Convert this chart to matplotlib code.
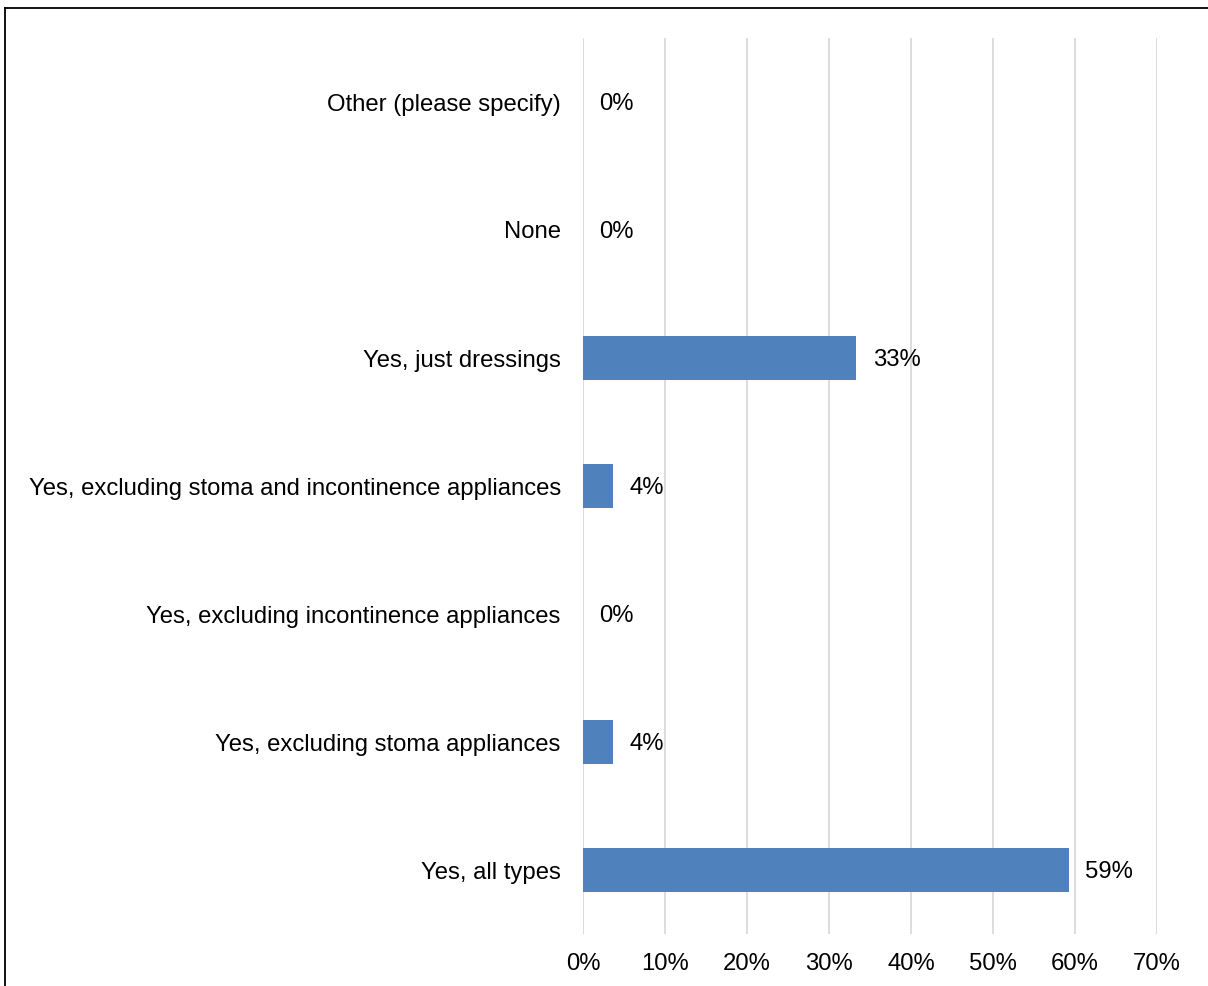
import matplotlib.pyplot as plt
from matplotlib.lines import Line2D

plt.rcParams['font.family'] = ['Liberation Sans', 'DejaVu Sans']

categories = ['Yes, all types', 'Yes, excluding stoma appliances',
              'Yes, excluding incontinence appliances',
              'Yes, excluding stoma and incontinence appliances',
              'Yes, just dressings', 'None', 'Other (please specify)']
values = [59.26, 3.70, 0.0, 3.70, 33.33, 0.0, 0.0]
xticks = [0, 10, 20, 30, 40, 50, 60, 70]

fs = 17.2
fig = plt.figure(figsize=(12.08, 9.86), dpi=100)
ax = fig.add_axes([583/1208, 52/986, (1157-583)/1208, (934-38)/986])

y = range(len(categories))
ax.barh(y, values, height=0.35, color='#4F81BD', zorder=3)
for i, v in enumerate(values):
    ax.text(v + 2.0, i, f'{v:.0f}%', va='center_baseline', ha='left', fontsize=fs)

ax.set_xlim(0, 70)
ax.set_ylim(-0.5, len(categories) - 0.5)
ax.set_xticks(xticks)
ax.set_xticklabels([f'{t}%' for t in xticks], fontsize=fs)
ax.set_yticks(list(y))
ax.set_yticklabels(categories, fontsize=fs)
ax.tick_params(axis='x', length=0, pad=14)
ax.tick_params(axis='y', length=0, pad=16)
ax.xaxis.grid(True, color='#D9D9D9', linewidth=1.3, zorder=0)
for s in ax.spines.values():
    s.set_visible(False)

# outer frame (left and top edges only visible)
fig.add_artist(Line2D([5/1208, 5/1208], [0, 1 - 8/986], transform=fig.transFigure, color='black', lw=1.3))
fig.add_artist(Line2D([5/1208, 1], [1 - 8/986, 1 - 8/986], transform=fig.transFigure, color='black', lw=1.3))

fig.savefig('out.png', dpi=100)
